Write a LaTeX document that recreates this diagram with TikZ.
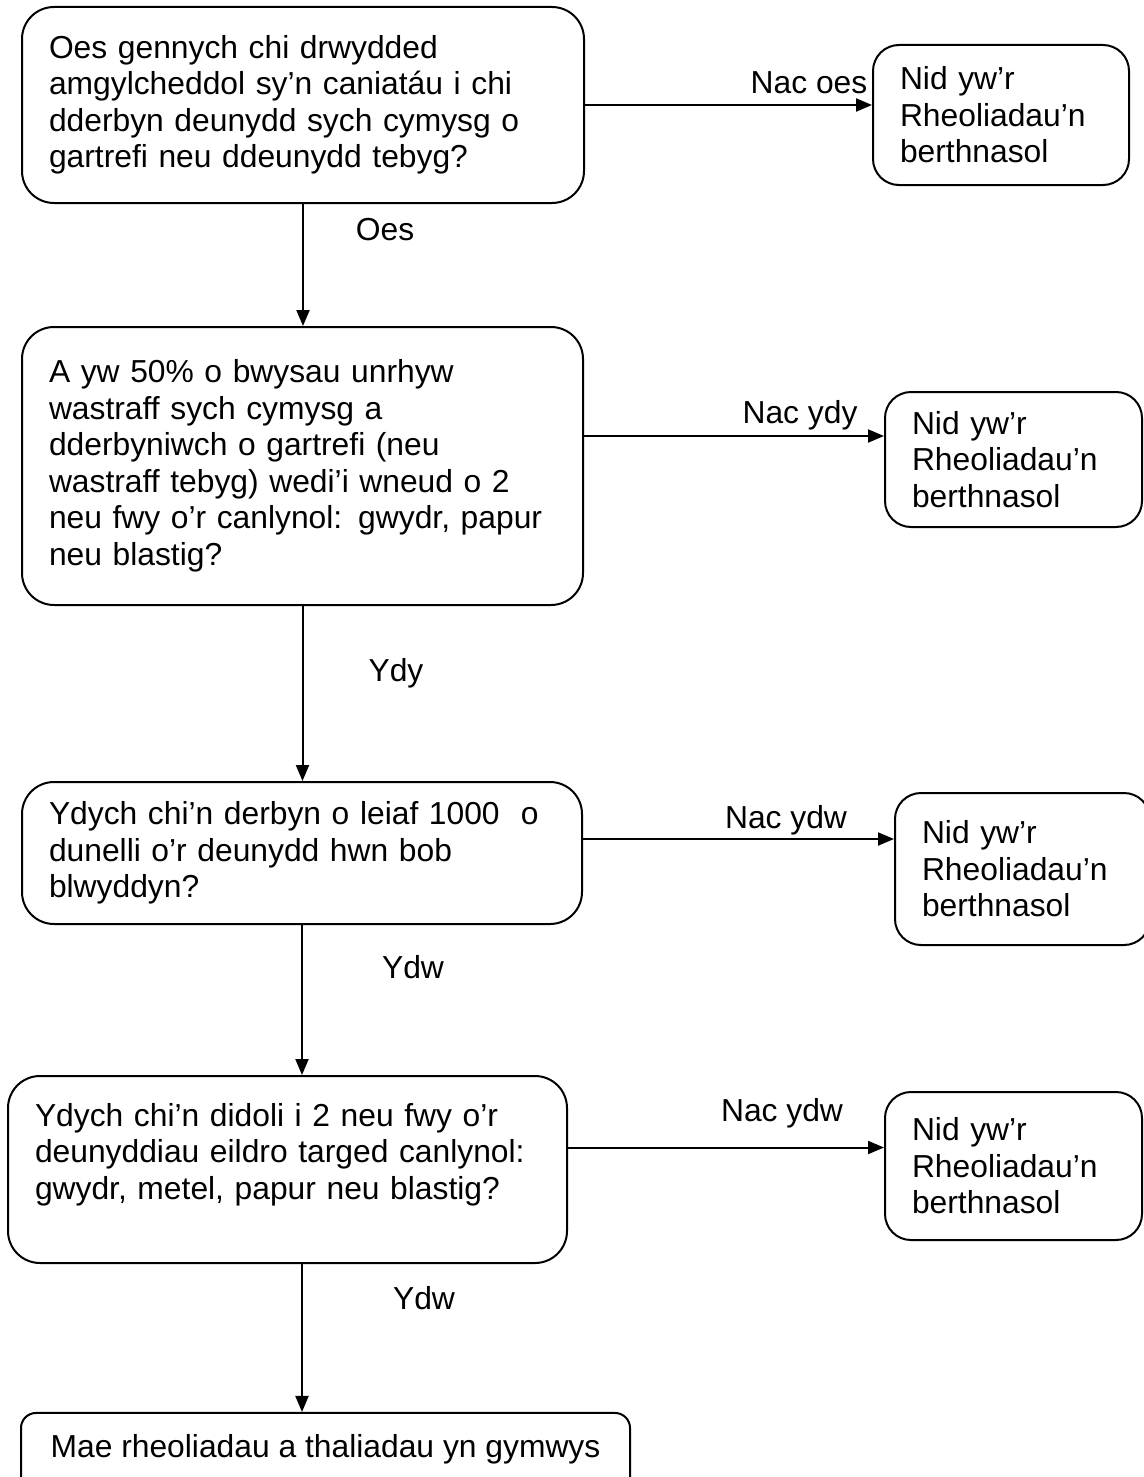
\documentclass[tikz,border=0pt]{standalone}
\usepackage{fontspec}
\setmainfont{Liberation Sans}
\usetikzlibrary{arrows.meta}
\tikzset{>={Triangle[length=16pt,width=13pt]}}
\tikzset{qbox/.style = {draw, rounded corners=32pt, align=left,
inner xsep=27pt, font=\fontsize{31.8}{36.5}\selectfont}}
\tikzset{nbox/.style = {qbox, rounded corners=26pt}}
\tikzset{lbl/.style = {inner sep=0pt, font=\fontsize{31.8}{36.5}\selectfont}}

\begin{document}
\begin{tikzpicture}[x=1pt,y=-1pt,line width=2pt]
                \useasboundingbox (0,0) rectangle (1143,1477);

                \node[qbox, text width=508pt, minimum height=196pt] (q1) at (303,105) {Oes gennych chi drwydded\\amgylcheddol sy’n caniatáu i chi\\dderbyn deunydd sych cymysg o\\gartrefi neu ddeunydd tebyg?};
                \node[nbox, text width=202pt, minimum height=140pt] (n1) at (1001,115) {Nid yw’r\\Rheoliadau’n\\berthnasol};
                \node[qbox, text width=507pt, minimum height=278pt] (q2) at (302.5,466) {A yw 50\% o bwysau unrhyw\\wastraff sych cymysg a\\dderbyniwch o gartrefi (neu\\wastraff tebyg) wedi’i wneud o 2\\neu fwy o’r canlynol: gwydr, papur\\neu blastig?};
                \node[nbox, text width=203pt, minimum height=135pt] (n2) at (1013.5,459.5) {Nid yw’r\\Rheoliadau’n\\berthnasol};
                \node[qbox, text width=506pt, minimum height=142pt] (q3) at (302,853) {Ydych chi’n derbyn o leiaf 1000\ \ o\\dunelli o’r deunydd hwn bob\\blwyddyn?};
                \node[nbox, text width=201pt, minimum height=152pt] (n3) at (1022.5,869) {Nid yw’r\\Rheoliadau’n\\berthnasol};
                \node[qbox, text width=505pt, minimum height=187pt] (q4) at (287.5,1169.5) {Ydych chi’n didoli i 2 neu fwy o’r\\deunyddiau eildro targed canlynol:\\gwydr, metel, papur neu blastig?\\ \mbox{}};
                \node[nbox, text width=203pt, minimum height=148pt] (n4) at (1013.5,1166) {Nid yw’r\\Rheoliadau’n\\berthnasol};
                \node[qbox, rounded corners=15pt, minimum width=609pt, inner ysep=21pt, text depth=30pt, anchor=base] (q5) at (325.5,1457) {Mae rheoliadau a thaliadau yn gymwys};

                \node[lbl] (l1) at (809,83) {Nac oes};
                \node[lbl] (l2) at (385,230) {Oes};
                \node[lbl] (l3) at (800,415) {Nac ydy};
                \node[lbl] (l4) at (396,673) {Ydy};
                \node[lbl] (l5) at (786,820) {Nac ydw};
                \node[lbl] (l6) at (413,967) {Ydw};
                \node[lbl] (l7) at (782,1113) {Nac ydw};
                \node[lbl] (l8) at (424,1298) {Ydw};

                \draw[->] (q1.east) -- (q1.east -| n1.west);
                \draw[->] ([yshift=30pt]q2.east) -- ([yshift=30pt]q2.east -| n2.west);
                \draw[->] ([yshift=14pt]q3.east) -- ([yshift=14pt]q3.east -| n3.west);
                \draw[->] ([yshift=22pt]q4.east) -- ([yshift=22pt]q4.east -| n4.west);
                \draw[->] (q1.south) -- (q1.south |- q2.north);
                \draw[->] (q2.south) -- (q2.south |- q3.north);
                \draw[->] (q3.south) -- (q3.south |- q4.north);
                \draw[->] (q3.south |- q4.south) -- (q3.south |- q5.north);
\end{tikzpicture}
\end{document}
